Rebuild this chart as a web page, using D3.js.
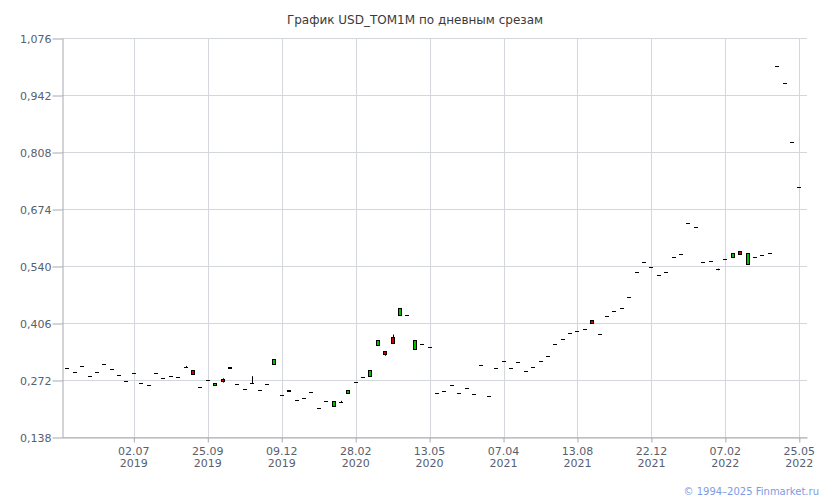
<!DOCTYPE html>
<html><head><meta charset="utf-8">
<script src="https://cdn.jsdelivr.net/npm/d3@7"></script>
<style>body{margin:0;background:#fff}svg{display:block}</style>
</head><body>
<script>
// ---- data ----
const opens = [0.300,0.290,0.305,0.281,0.290,0.309,0.297,0.284,0.270,0.288,
  0.264,0.260,0.288,0.276,0.281,0.278,0.302,0.2955,0.255,0.272,
  0.2595,0.2736,0.300,0.263,0.250,0.264,0.2485,0.263,0.309,0.237,
  0.246,0.225,0.229,0.243,0.2055,0.222,0.2116,0.221,0.2407,0.2666,
  0.278,0.2807,0.3559,0.3395,0.3738,0.4248,0.425,0.3442,0.3566,0.3489,
  0.2407,0.2461,0.2595,0.2407,0.2525,0.2384,0.3065,0.2337,0.2995,0.3166,
  0.2995,0.3143,0.2932,0.302,0.3166,0.3277,0.3566,0.3677,0.3825,0.3865,
  0.3912,0.4123,0.3801,0.4224,0.4342,0.4406,0.4671,0.5252,0.5494,0.5369,
  0.5181,0.5252,0.5604,0.5682,0.6411,0.631,0.5494,0.5517,0.5336,0.5557,
  0.5604,0.576,0.544,0.5604,0.5651,0.5706,1.0102,0.9695,0.8308,0.7257];
const closes = [0.300,0.290,0.305,0.281,0.290,0.309,0.297,0.284,0.270,0.288,
  0.264,0.260,0.288,0.276,0.281,0.278,0.302,0.285,0.255,0.272,
  0.264,0.268,0.302,0.263,0.250,0.264,0.2485,0.263,0.3207,0.237,
  0.248,0.225,0.229,0.243,0.2055,0.222,0.2233,0.221,0.2478,0.2666,
  0.278,0.2948,0.3667,0.3324,0.3606,0.4406,0.425,0.3653,0.3566,0.3489,
  0.2407,0.2461,0.2595,0.2407,0.2525,0.2384,0.3065,0.2337,0.2995,0.3166,
  0.2995,0.3143,0.2932,0.302,0.3166,0.3277,0.3566,0.3677,0.3825,0.3865,
  0.3912,0.4053,0.3801,0.4224,0.4342,0.4406,0.4671,0.5252,0.5494,0.5369,
  0.5181,0.5252,0.5604,0.5682,0.6411,0.631,0.5494,0.5517,0.5336,0.5557,
  0.5698,0.5698,0.5698,0.5604,0.5651,0.5706,1.0102,0.9695,0.8308,0.7257];
// extra highs / lows where a wick is visible (index -> value)
const wickHighs = {16:0.305, 21:0.276, 25:0.281, 37:0.223, 44:0.379};
const wickLows  = {21:0.266, 37:0.219, 43:0.329, 88:0.530};
const tickIndex = [9,19,29,39,49,59,69,79,89,99];
const tickDay   = ["02.07","25.09","09.12","28.02","13.05","07.04","13.08","22.12","07.02","25.05"];
const tickYear  = ["2019","2019","2019","2020","2020","2021","2021","2021","2022","2022"];
const yTicks = [0.138,0.272,0.406,0.540,0.674,0.808,0.942,1.076];

const candles = opens.map((o,i)=>{
  const c = closes[i];
  const hi = wickHighs[i] !== undefined ? wickHighs[i] : Math.max(o,c);
  const lo = wickLows[i] !== undefined ? wickLows[i] : Math.min(o,c);
  return {i, o, c, hi, lo};
});

const W=830,H=500;
const L=62,R=807,T=38,B=437;
const svg=d3.select("body").append("svg").attr("width",W).attr("height",H)
  .style("font-family","'DejaVu Sans', Verdana, sans-serif");

const x=d3.scaleLinear().domain([-0.72,100.04]).range([L,R]);
const y=d3.scaleLinear().domain([0.138,1.076]).range([B,T]);
const fmt=v=>d3.format(".3f")(v).replace(".",",");

// title
svg.append("text").attr("x",415).attr("y",24).attr("text-anchor","middle")
  .attr("font-size",12).attr("fill","#3a3a3a").text("График USD_TOM1M по дневным срезам");

// grid
const grid=svg.append("g");
grid.selectAll("line.h").data(yTicks).join("line")
  .attr("x1",L).attr("x2",R).attr("y1",d=>Math.round(y(d))+0.5).attr("y2",d=>Math.round(y(d))+0.5)
  .attr("stroke","#d3d7db").attr("stroke-width",1);
grid.selectAll("line.v").data(tickIndex).join("line")
  .attr("y1",T).attr("y2",B).attr("x1",d=>Math.round(x(d))+0.5).attr("x2",d=>Math.round(x(d))+0.5)
  .attr("stroke","#d3d7db").attr("stroke-width",1);

// y axis
const yAx=svg.append("g").attr("transform",`translate(${L+0.5},0)`)
  .call(d3.axisLeft(y).tickValues(yTicks).tickFormat(fmt).tickSize(10).tickSizeOuter(0));
// x axis
const xAx=svg.append("g").attr("transform",`translate(0,${B+0.5})`)
  .call(d3.axisBottom(x).tickValues(tickIndex).tickFormat(()=>"").tickSize(5).tickSizeOuter(0));
[yAx,xAx].forEach(a=>{
  a.select(".domain").attr("stroke","#a6a9b0");
  a.selectAll(".tick line").attr("stroke","#a6a9b0");
  a.selectAll(".tick text").attr("fill","#56606e").attr("font-size",11).attr("font-family","'DejaVu Sans', Verdana, sans-serif");
});
yAx.selectAll(".tick line").attr("transform","translate(0,0.5)");
yAx.selectAll(".tick text").attr("dy","0.42em").attr("x",-11);
xAx.selectAll(".tick text").remove();
const xl=svg.append("g").attr("font-size",11).attr("fill","#56606e").attr("text-anchor","middle");
xl.selectAll("text.d").data(tickIndex).join("text").attr("x",d=>x(d)).attr("y",455).text((d,k)=>tickDay[k]);
xl.selectAll("text.yr").data(tickIndex).join("text").attr("x",d=>x(d)).attr("y",467).text((d,k)=>tickYear[k]);

// candles
const cg=svg.append("g");
const bw=4;
candles.forEach(d=>{
  const cx=Math.round(x(d.i));
  if(d.hi>Math.max(d.o,d.c)+1e-9 || d.lo<Math.min(d.o,d.c)-1e-9){
    cg.append("line").attr("x1",cx+0.5).attr("x2",cx+0.5).attr("y1",y(d.hi)).attr("y2",y(d.lo))
      .attr("stroke","#000").attr("stroke-width",1);
  }
  const top=y(Math.max(d.o,d.c)), bot=y(Math.min(d.o,d.c));
  if(Math.abs(d.c-d.o)<1e-9){
    cg.append("rect").attr("x",cx-2).attr("y",Math.round(top)).attr("width",bw).attr("height",1).attr("fill","#000");
  } else {
    const h=Math.max(1,bot-top);
    cg.append("rect").attr("x",cx-2+0.5).attr("y",Math.round(top)+0.5).attr("width",bw-1).attr("height",Math.max(1,Math.round(h)))
      .attr("fill",d.c>d.o?"#00c000":"#d00000").attr("stroke","#000").attr("stroke-width",1);
  }
});

// copyright
svg.append("text").attr("x",819).attr("y",495).attr("text-anchor","end").attr("font-size",10)
  .attr("fill","#7d9be6").text("© 1994–2025 Finmarket.ru");
</script>
</body></html>
